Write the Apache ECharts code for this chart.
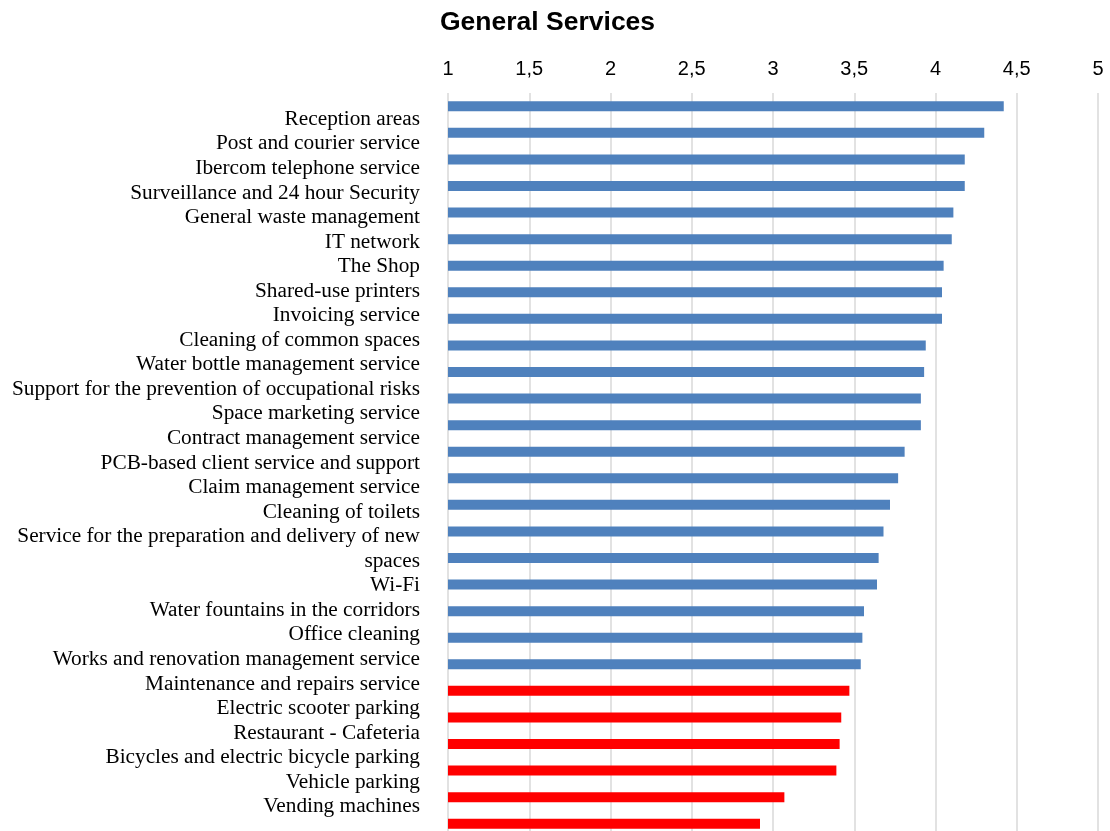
<!DOCTYPE html>
<html>
<head>
<meta charset="utf-8">
<title>General Services</title>
<script src="https://cdn.jsdelivr.net/npm/echarts@6/dist/echarts.min.js"></script>
<style>
  html, body { margin: 0; padding: 0; background: #fff; overflow: hidden; }
  /* the original chart is cut off just below the last bar */
  #main { width: 1110px; height: 845px; }
</style>
</head>
<body>
<div id="main"></div>
<script>
  // services, top to bottom
  var categories = [
    'Reception areas',
    'Post and courier service',
    'Ibercom telephone service',
    'Surveillance and 24 hour Security',
    'General waste management',
    'IT network',
    'The Shop',
    'Shared-use printers',
    'Invoicing service',
    'Cleaning of common spaces',
    'Water bottle management service',
    'Support for the prevention of occupational risks',
    'Space marketing service',
    'Contract management service',
    'PCB-based client service and support',
    'Claim management service',
    'Cleaning of toilets',
    'Service for the preparation and delivery of new spaces',
    'Wi-Fi',
    'Water fountains in the corridors',
    'Office cleaning',
    'Works and renovation management service',
    'Maintenance and repairs service',
    'Electric scooter parking',
    'Restaurant - Cafeteria',
    'Bicycles and electric bicycle parking',
    'Vehicle parking',
    'Vending machines'
  ];

  // average rating (1 - 5)
  var scores = [
    4.42, 4.30, 4.18, 4.18, 4.11, 4.10, 4.05, 4.04, 4.04, 3.94,
    3.93, 3.91, 3.91, 3.81, 3.77, 3.72, 3.68, 3.65, 3.64, 3.56,
    3.55, 3.54, 3.47, 3.42, 3.41, 3.39, 3.07, 2.92
  ];

  // label lines as printed in the original (one label wraps onto two lines)
  var labelLines = [
    'Reception areas',
    'Post and courier service',
    'Ibercom telephone service',
    'Surveillance and 24 hour Security',
    'General waste management',
    'IT network',
    'The Shop',
    'Shared-use printers',
    'Invoicing service',
    'Cleaning of common spaces',
    'Water bottle management service',
    'Support for the prevention of occupational risks',
    'Space marketing service',
    'Contract management service',
    'PCB-based client service and support',
    'Claim management service',
    'Cleaning of toilets',
    'Service for the preparation and delivery of new',
    'spaces',
    'Wi-Fi',
    'Water fountains in the corridors',
    'Office cleaning',
    'Works and renovation management service',
    'Maintenance and repairs service',
    'Electric scooter parking',
    'Restaurant - Cafeteria',
    'Bicycles and electric bicycle parking',
    'Vehicle parking',
    'Vending machines'
  ];

  var threshold = 3.5;   // below this the bar is red

  var myChart = echarts.init(document.getElementById('main'));

  var option = {
    backgroundColor: '#fff',
    animation: false,
    title: {
      text: 'General Services',
      left: 440,
      top: 9,
      padding: 0,
      textStyle: {
        fontFamily: 'Liberation Sans, Arial, sans-serif',
        fontSize: 26.5,
        fontWeight: 'bold',
        color: '#000'
      }
    },
    // bar colours by score
    visualMap: {
      show: false,
      seriesIndex: 0,
      dimension: 0,
      pieces: [
        { lt: threshold, color: '#FF0000' },
        { gte: threshold, color: '#4F81BD' }
      ]
    },
    grid: [
      // bars
      { left: 448, top: 93, width: 650, height: 744 },
      // labels
      { left: 448, top: 107, width: 650, height: 712 }
    ],
    xAxis: [
      {
        type: 'value',
        gridIndex: 0,
        position: 'top',
        min: 1,
        max: 5,
        interval: 0.5,
        axisLine: { show: false },
        axisTick: { show: false },
        axisLabel: {
          margin: 14,
          fontFamily: 'Liberation Sans, Arial, sans-serif',
          fontSize: 20,
          color: '#000',
          formatter: function (v) {
            return String(v).replace('.', ',');
          }
        },
        splitLine: {
          show: true,
          lineStyle: { color: '#D9D9D9', width: 1.5 }
        }
      },
      {
        type: 'value',
        gridIndex: 1,
        min: 0,
        max: 1,
        show: false
      }
    ],
    yAxis: [
      {
        type: 'category',
        gridIndex: 0,
        inverse: true,
        data: categories,
        axisLine: { show: false },
        axisTick: { show: false },
        axisLabel: { show: false }
      },
      {
        type: 'category',
        gridIndex: 1,
        inverse: true,
        data: labelLines,
        axisLine: { show: false },
        axisTick: { show: false },
        splitLine: { show: false },
        axisLabel: {
          interval: 0,
          margin: 28,
          fontFamily: 'Liberation Serif, Times New Roman, serif',
          fontSize: 21.3,
          color: '#000'
        }
      }
    ],
    series: [
      {
        name: 'General Services',
        type: 'bar',
        xAxisIndex: 0,
        yAxisIndex: 0,
        barWidth: 10,
        data: scores
      }
    ]
  };

  myChart.setOption(option);
</script>
</body>
</html>
